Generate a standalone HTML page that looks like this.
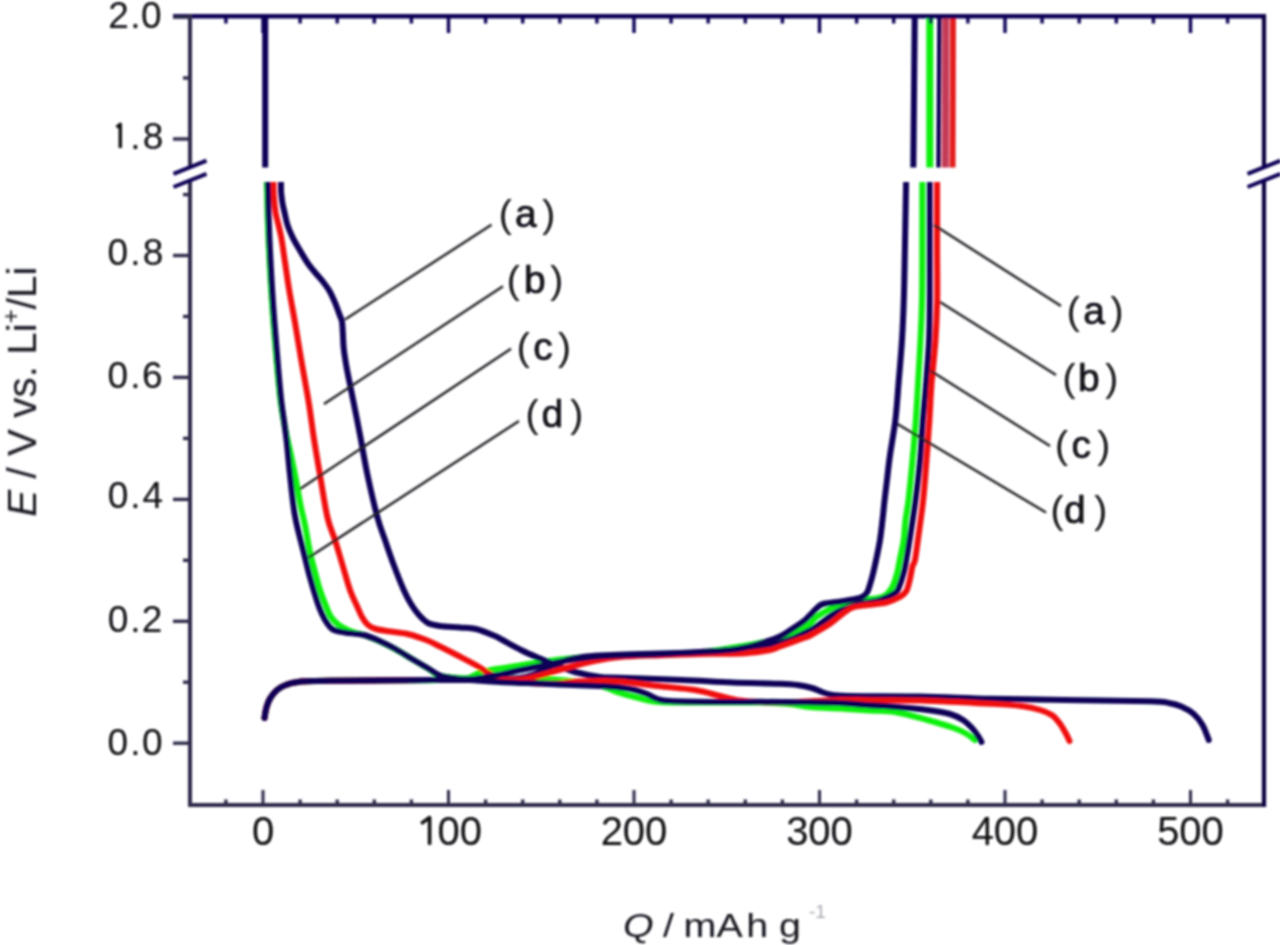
<!DOCTYPE html><html><head><meta charset="utf-8"><style>html,body{margin:0;padding:0;background:#fff;overflow:hidden}svg{display:block}</style></head><body><svg width="1280" height="945" viewBox="0 0 1280 945"><rect x="0" y="0" width="1280" height="945" fill="#ffffff"/><defs><filter id="bl" x="-2%" y="-2%" width="104%" height="104%"><feGaussianBlur stdDeviation="0.8"/></filter></defs><g filter="url(#bl)"><defs><clipPath id="lo"><rect x="191" y="182" width="1072" height="621"/></clipPath><clipPath id="up"><rect x="191" y="16" width="1072" height="151.5"/></clipPath></defs><g clip-path="url(#lo)"><path d="M264.50,718.00 C264.80,716.33 265.47,711.08 266.30,708.00 C267.13,704.92 268.13,702.08 269.50,699.50 C270.87,696.92 272.67,694.50 274.50,692.50 C276.33,690.50 278.33,688.87 280.50,687.50 C282.67,686.13 284.92,685.17 287.50,684.30 C290.08,683.43 292.92,682.80 296.00,682.30 C299.08,681.80 300.33,681.55 306.00,681.30 C311.67,681.05 314.33,680.97 330.00,680.80 C345.67,680.63 381.67,680.43 400.00,680.30 C418.33,680.17 429.17,680.22 440.00,680.00 C450.83,679.78 457.83,680.42 465.00,679.00 C472.17,677.58 475.50,673.50 483.00,671.50 C490.50,669.50 499.67,668.67 510.00,667.00 C520.33,665.33 535.00,662.92 545.00,661.50 C555.00,660.08 560.83,659.38 570.00,658.50 C579.17,657.62 585.00,656.87 600.00,656.20 C615.00,655.53 643.33,655.12 660.00,654.50 C676.67,653.88 686.67,653.83 700.00,652.50 C713.33,651.17 729.17,648.25 740.00,646.50 C750.83,644.75 758.33,643.17 765.00,642.00 C771.67,640.83 774.38,641.29 780.00,639.50 C785.62,637.71 793.75,633.92 798.75,631.25 C803.75,628.58 806.88,626.00 810.00,623.50 C813.12,621.00 813.12,619.12 817.50,616.25 C821.88,613.38 828.96,608.88 836.25,606.25 C843.54,603.62 853.46,602.09 861.25,600.50 C869.04,598.91 877.92,598.77 883.00,596.70 C888.08,594.63 889.40,591.82 891.70,588.10 C894.00,584.38 895.37,579.55 896.80,574.40 C898.23,569.25 899.15,562.93 900.30,557.20 C901.45,551.47 902.83,546.20 903.70,540.00 C904.57,533.80 904.70,526.67 905.50,520.00 C906.30,513.33 907.33,510.00 908.50,500.00 C909.67,490.00 911.28,473.33 912.50,460.00 C913.72,446.67 914.88,432.67 915.80,420.00 C916.72,407.33 917.22,397.33 918.00,384.00 C918.78,370.67 919.83,354.00 920.50,340.00 C921.17,326.00 921.70,315.00 922.00,300.00 C922.30,285.00 922.25,270.67 922.30,250.00 C922.35,229.33 922.30,188.33 922.30,176.00" fill="none" stroke="#10f010" stroke-width="6.0" stroke-linejoin="round" stroke-linecap="round"/><path d="M266.60,176.00 C266.77,182.50 267.23,203.17 267.60,215.00 C267.97,226.83 268.23,234.83 268.80,247.00 C269.37,259.17 270.23,275.42 271.00,288.00 C271.77,300.58 272.48,310.50 273.40,322.50 C274.32,334.50 275.32,346.92 276.50,360.00 C277.68,373.08 279.00,389.33 280.50,401.00 C282.00,412.67 283.75,421.00 285.50,430.00 C287.25,439.00 289.25,446.67 291.00,455.00 C292.75,463.33 294.42,471.67 296.00,480.00 C297.58,488.33 299.00,497.50 300.50,505.00 C302.00,512.50 303.42,517.17 305.00,525.00 C306.58,532.83 308.33,544.17 310.00,552.00 C311.67,559.83 313.33,565.67 315.00,572.00 C316.67,578.33 318.17,584.33 320.00,590.00 C321.83,595.67 324.17,601.50 326.00,606.00 C327.83,610.50 328.88,613.83 331.00,617.00 C333.12,620.17 335.58,622.67 338.75,625.00 C341.92,627.33 345.83,629.33 350.00,631.00 C354.17,632.67 358.75,633.25 363.75,635.00 C368.75,636.75 374.79,639.17 380.00,641.50 C385.21,643.83 389.38,645.92 395.00,649.00 C400.62,652.08 408.12,656.67 413.75,660.00 C419.38,663.33 424.38,666.33 428.75,669.00 C433.12,671.67 434.79,674.50 440.00,676.00 C445.21,677.50 450.00,677.58 460.00,678.00 C470.00,678.42 486.67,678.33 500.00,678.50 C513.33,678.67 530.00,678.75 540.00,679.00 C550.00,679.25 550.83,679.08 560.00,680.00 C569.17,680.92 587.17,683.17 595.00,684.50 C602.83,685.83 602.83,686.58 607.00,688.00 C611.17,689.42 615.00,691.42 620.00,693.00 C625.00,694.58 631.33,696.08 637.00,697.50 C642.67,698.92 646.83,700.67 654.00,701.50 C661.17,702.33 662.33,702.33 680.00,702.50 C697.67,702.67 741.67,702.25 760.00,702.50 C778.33,702.75 781.67,703.25 790.00,704.00 C798.33,704.75 801.67,706.25 810.00,707.00 C818.33,707.75 830.00,707.92 840.00,708.50 C850.00,709.08 860.83,709.92 870.00,710.50 C879.17,711.08 885.42,710.42 895.00,712.00 C904.58,713.58 917.92,717.42 927.50,720.00 C937.08,722.58 946.25,725.33 952.50,727.50 C958.75,729.67 961.25,730.92 965.00,733.00 C968.75,735.08 973.33,738.83 975.00,740.00" fill="none" stroke="#10f010" stroke-width="6.0" stroke-linejoin="round" stroke-linecap="round"/><path d="M281.00,176.00 C281.00,178.33 280.90,186.50 281.00,190.00 C281.10,193.50 281.30,194.50 281.60,197.00 C281.90,199.50 282.30,202.38 282.80,205.00 C283.30,207.62 283.80,209.30 284.60,212.70 C285.40,216.10 286.20,221.17 287.60,225.40 C289.00,229.63 290.88,233.83 293.00,238.10 C295.12,242.37 297.75,246.68 300.30,251.00 C302.85,255.32 305.77,260.33 308.30,264.00 C310.83,267.67 313.02,270.00 315.50,273.00 C317.98,276.00 320.87,279.00 323.20,282.00 C325.53,285.00 327.53,287.55 329.50,291.00 C331.47,294.45 333.28,298.63 335.00,302.70 C336.72,306.77 338.63,312.23 339.80,315.40 C340.97,318.57 341.50,318.93 342.00,321.70 C342.50,324.47 342.50,327.45 342.80,332.00 C343.10,336.55 343.15,343.00 343.80,349.00 C344.45,355.00 345.58,361.67 346.70,368.00 C347.82,374.33 349.23,380.67 350.50,387.00 C351.77,393.33 353.22,400.58 354.30,406.00 C355.38,411.42 355.97,414.25 357.00,419.50 C358.03,424.75 358.75,428.25 360.50,437.50 C362.25,446.75 364.67,461.67 367.50,475.00 C370.33,488.33 374.58,506.67 377.50,517.50 C380.42,528.33 382.29,532.08 385.00,540.00 C387.71,547.92 390.62,556.67 393.75,565.00 C396.88,573.33 400.88,583.50 403.75,590.00 C406.62,596.50 408.46,599.83 411.00,604.00 C413.54,608.17 416.17,611.83 419.00,615.00 C421.83,618.17 424.50,621.17 428.00,623.00 C431.50,624.83 434.67,625.25 440.00,626.00 C445.33,626.75 454.00,627.00 460.00,627.50 C466.00,628.00 470.17,627.58 476.00,629.00 C481.83,630.42 490.58,634.17 495.00,636.00 C499.42,637.83 498.17,637.67 502.50,640.00 C506.83,642.33 515.17,647.08 521.00,650.00 C526.83,652.92 531.83,655.08 537.50,657.50 C543.17,659.92 548.75,662.08 555.00,664.50 C561.25,666.92 567.50,669.92 575.00,672.00 C582.50,674.08 592.50,676.03 600.00,677.00 C607.50,677.97 606.25,677.30 620.00,677.80 C633.75,678.30 663.75,679.22 682.50,680.00 C701.25,680.78 716.25,681.88 732.50,682.50 C748.75,683.12 769.17,683.33 780.00,683.75 C790.83,684.17 792.17,684.29 797.50,685.00 C802.83,685.71 807.92,686.83 812.00,688.00 C816.08,689.17 819.00,690.92 822.00,692.00 C825.00,693.08 825.75,693.83 830.00,694.50 C834.25,695.17 832.50,695.67 847.50,696.00 C862.50,696.33 896.25,696.04 920.00,696.50 C943.75,696.96 965.83,698.17 990.00,698.75 C1014.17,699.33 1038.33,699.58 1065.00,700.00 C1091.67,700.42 1132.71,700.75 1150.00,701.25 C1167.29,701.75 1163.54,702.12 1168.75,703.00 C1173.96,703.88 1177.08,704.67 1181.25,706.50 C1185.42,708.33 1190.21,710.92 1193.75,714.00 C1197.29,717.08 1200.00,720.67 1202.50,725.00 C1205.00,729.33 1207.71,737.50 1208.75,740.00" fill="none" stroke="#0a0656" stroke-width="6.0" stroke-linejoin="round" stroke-linecap="round"/><path d="M273.50,176.00 C273.53,179.17 273.37,189.00 273.70,195.00 C274.03,201.00 274.70,207.00 275.50,212.00 C276.30,217.00 277.52,220.65 278.50,225.00 C279.48,229.35 280.28,231.68 281.40,238.10 C282.52,244.52 283.93,255.03 285.20,263.50 C286.47,271.97 287.37,279.07 289.00,288.90 C290.63,298.73 292.96,310.65 295.00,322.50 C297.04,334.35 298.96,346.67 301.25,360.00 C303.54,373.33 306.67,389.58 308.75,402.50 C310.83,415.42 311.88,425.42 313.75,437.50 C315.62,449.58 317.71,461.67 320.00,475.00 C322.29,488.33 325.00,506.67 327.50,517.50 C330.00,528.33 332.50,532.08 335.00,540.00 C337.50,547.92 340.00,556.67 342.50,565.00 C345.00,573.33 347.58,583.17 350.00,590.00 C352.42,596.83 355.00,601.50 357.00,606.00 C359.00,610.50 360.17,613.83 362.00,617.00 C363.83,620.17 365.67,623.00 368.00,625.00 C370.33,627.00 372.33,627.92 376.00,629.00 C379.67,630.08 384.75,630.67 390.00,631.50 C395.25,632.33 401.46,632.58 407.50,634.00 C413.54,635.42 420.83,637.92 426.25,640.00 C431.67,642.08 434.58,643.83 440.00,646.50 C445.42,649.17 452.50,652.75 458.75,656.00 C465.00,659.25 472.29,663.00 477.50,666.00 C482.71,669.00 485.42,671.67 490.00,674.00 C494.58,676.33 498.33,678.50 505.00,680.00 C511.67,681.50 521.67,682.42 530.00,683.00 C538.33,683.58 547.08,683.75 555.00,683.50 C562.92,683.25 570.00,681.92 577.50,681.50 C585.00,681.08 592.92,681.00 600.00,681.00 C607.08,681.00 610.42,680.67 620.00,681.50 C629.58,682.33 645.00,684.58 657.50,686.00 C670.00,687.42 684.58,688.33 695.00,690.00 C705.42,691.67 712.50,694.25 720.00,696.00 C727.50,697.75 733.33,699.50 740.00,700.50 C746.67,701.50 751.67,701.72 760.00,702.00 C768.33,702.28 780.83,702.37 790.00,702.20 C799.17,702.03 806.67,701.37 815.00,701.00 C823.33,700.63 830.83,700.13 840.00,700.00 C849.17,699.87 856.67,700.12 870.00,700.20 C883.33,700.28 900.00,699.91 920.00,700.50 C940.00,701.09 973.17,702.83 990.00,703.75 C1006.83,704.67 1012.67,704.96 1021.00,706.00 C1029.33,707.04 1034.75,708.42 1040.00,710.00 C1045.25,711.58 1049.17,713.21 1052.50,715.50 C1055.83,717.79 1057.75,720.71 1060.00,723.75 C1062.25,726.79 1064.42,730.88 1066.00,733.75 C1067.58,736.62 1068.92,739.79 1069.50,741.00" fill="none" stroke="#f01010" stroke-width="6.0" stroke-linejoin="round" stroke-linecap="round"/><path d="M264.50,718.00 C264.80,716.33 265.47,711.08 266.30,708.00 C267.13,704.92 268.13,702.08 269.50,699.50 C270.87,696.92 272.67,694.50 274.50,692.50 C276.33,690.50 278.33,688.87 280.50,687.50 C282.67,686.13 284.92,685.17 287.50,684.30 C290.08,683.43 292.92,682.80 296.00,682.30 C299.08,681.80 300.33,681.55 306.00,681.30 C311.67,681.05 314.33,680.97 330.00,680.80 C345.67,680.63 381.67,680.43 400.00,680.30 C418.33,680.17 428.33,680.13 440.00,680.00 C451.67,679.87 460.00,679.67 470.00,679.50 C480.00,679.33 491.67,679.25 500.00,679.00 C508.33,678.75 514.17,678.83 520.00,678.00 C525.83,677.17 530.00,675.83 535.00,674.00 C540.00,672.17 545.00,669.25 550.00,667.00 C555.00,664.75 560.00,662.08 565.00,660.50 C570.00,658.92 574.17,658.33 580.00,657.50 C585.83,656.67 586.67,656.17 600.00,655.50 C613.33,654.83 643.33,654.00 660.00,653.50 C676.67,653.00 685.00,653.33 700.00,652.50 C715.00,651.67 736.67,650.08 750.00,648.50 C763.33,646.92 770.00,646.00 780.00,643.00 C790.00,640.00 800.62,635.58 810.00,630.50 C819.38,625.42 827.92,616.92 836.25,612.50 C844.58,608.08 852.71,606.08 860.00,604.00 C867.29,601.92 874.17,601.83 880.00,600.00 C885.83,598.17 891.88,595.08 895.00,593.00 C898.12,590.92 897.29,590.92 898.75,587.50 C900.21,584.08 902.50,577.08 903.75,572.50 C905.00,567.92 905.21,565.92 906.25,560.00 C907.29,554.08 908.46,547.00 910.00,537.00 C911.54,527.00 913.83,512.83 915.50,500.00 C917.17,487.17 918.78,473.33 920.00,460.00 C921.22,446.67 921.80,432.67 922.80,420.00 C923.80,407.33 924.97,397.33 926.00,384.00 C927.03,370.67 928.38,354.00 929.00,340.00 C929.62,326.00 929.58,315.00 929.70,300.00 C929.82,285.00 929.70,270.67 929.70,250.00 C929.70,229.33 929.70,188.33 929.70,176.00" fill="none" stroke="#0a0656" stroke-width="6.0" stroke-linejoin="round" stroke-linecap="round"/><path d="M264.50,718.00 C264.80,716.33 265.47,711.08 266.30,708.00 C267.13,704.92 268.13,702.08 269.50,699.50 C270.87,696.92 272.67,694.50 274.50,692.50 C276.33,690.50 278.33,688.87 280.50,687.50 C282.67,686.13 284.92,685.17 287.50,684.30 C290.08,683.43 292.92,682.80 296.00,682.30 C299.08,681.80 300.33,681.55 306.00,681.30 C311.67,681.05 314.33,680.97 330.00,680.80 C345.67,680.63 381.67,680.43 400.00,680.30 C418.33,680.17 423.33,680.05 440.00,680.00 C456.67,679.95 486.33,680.08 500.00,680.00 C513.67,679.92 515.33,680.25 522.00,679.50 C528.67,678.75 533.88,677.08 540.00,675.50 C546.12,673.92 552.50,671.75 558.75,670.00 C565.00,668.25 571.62,666.50 577.50,665.00 C583.38,663.50 586.92,662.33 594.00,661.00 C601.08,659.67 609.00,657.97 620.00,657.00 C631.00,656.03 646.67,655.70 660.00,655.20 C673.33,654.70 690.00,654.23 700.00,654.00 C710.00,653.77 712.50,653.93 720.00,653.80 C727.50,653.67 736.67,653.83 745.00,653.20 C753.33,652.57 764.17,651.12 770.00,650.00 C775.83,648.88 774.17,648.58 780.00,646.50 C785.83,644.42 800.00,639.33 805.00,637.50 C810.00,635.67 805.83,637.79 810.00,635.50 C814.17,633.21 824.58,627.38 830.00,623.75 C835.42,620.12 838.75,616.46 842.50,613.75 C846.25,611.04 848.33,608.96 852.50,607.50 C856.67,606.04 861.88,605.83 867.50,605.00 C873.12,604.17 881.04,603.75 886.25,602.50 C891.46,601.25 895.42,599.38 898.75,597.50 C902.08,595.62 904.38,594.38 906.25,591.25 C908.12,588.12 908.96,582.92 910.00,578.75 C911.04,574.58 911.67,569.38 912.50,566.25 C913.33,563.12 914.03,564.88 915.00,560.00 C915.97,555.12 916.93,547.00 918.30,537.00 C919.67,527.00 921.83,512.83 923.20,500.00 C924.57,487.17 925.47,473.33 926.50,460.00 C927.53,446.67 928.57,432.67 929.40,420.00 C930.23,407.33 930.48,397.33 931.50,384.00 C932.52,370.67 934.55,354.00 935.50,340.00 C936.45,326.00 936.93,315.00 937.20,300.00 C937.47,285.00 937.12,270.67 937.10,250.00 C937.08,229.33 937.10,188.33 937.10,176.00" fill="none" stroke="#f01010" stroke-width="6.0" stroke-linejoin="round" stroke-linecap="round"/><path d="M264.50,718.00 C264.80,716.33 265.47,711.08 266.30,708.00 C267.13,704.92 268.13,702.08 269.50,699.50 C270.87,696.92 272.67,694.50 274.50,692.50 C276.33,690.50 278.33,688.87 280.50,687.50 C282.67,686.13 284.92,685.17 287.50,684.30 C290.08,683.43 292.92,682.80 296.00,682.30 C299.08,681.80 300.33,681.55 306.00,681.30 C311.67,681.05 314.33,680.97 330.00,680.80 C345.67,680.63 381.67,680.43 400.00,680.30 C418.33,680.17 428.33,680.13 440.00,680.00 C451.67,679.87 460.83,680.25 470.00,679.50 C479.17,678.75 486.67,677.08 495.00,675.50 C503.33,673.92 511.67,671.75 520.00,670.00 C528.33,668.25 536.67,666.67 545.00,665.00 C553.33,663.33 560.83,661.47 570.00,660.00 C579.17,658.53 585.00,657.20 600.00,656.20 C615.00,655.20 643.33,654.70 660.00,654.00 C676.67,653.30 688.33,652.67 700.00,652.00 C711.67,651.33 721.67,650.92 730.00,650.00 C738.33,649.08 744.17,647.83 750.00,646.50 C755.83,645.17 760.00,643.67 765.00,642.00 C770.00,640.33 775.42,638.71 780.00,636.50 C784.58,634.29 788.33,631.50 792.50,628.75 C796.67,626.00 800.83,623.54 805.00,620.00 C809.17,616.46 814.38,610.21 817.50,607.50 C820.62,604.79 819.58,604.79 823.75,603.75 C827.92,602.71 836.88,602.12 842.50,601.25 C848.12,600.38 854.08,599.29 857.50,598.50 C860.92,597.71 861.32,597.67 863.00,596.50 C864.68,595.33 865.97,595.18 867.60,591.50 C869.23,587.82 871.32,579.98 872.80,574.40 C874.28,568.82 875.30,563.73 876.50,558.00 C877.70,552.27 879.00,546.33 880.00,540.00 C881.00,533.67 881.73,526.67 882.50,520.00 C883.27,513.33 883.85,506.67 884.60,500.00 C885.35,493.33 886.10,487.50 887.00,480.00 C887.90,472.50 888.60,465.00 890.00,455.00 C891.40,445.00 893.98,431.83 895.40,420.00 C896.82,408.17 897.40,397.33 898.50,384.00 C899.60,370.67 901.12,354.00 902.00,340.00 C902.88,326.00 903.33,314.33 903.80,300.00 C904.27,285.67 904.40,274.67 904.80,254.00 C905.20,233.33 905.97,189.00 906.20,176.00" fill="none" stroke="#0a0656" stroke-width="6.0" stroke-linejoin="round" stroke-linecap="round"/><path d="M267.60,176.00 C267.77,182.50 268.23,203.17 268.60,215.00 C268.97,226.83 269.23,234.83 269.80,247.00 C270.37,259.17 271.23,275.42 272.00,288.00 C272.77,300.58 273.48,310.50 274.40,322.50 C275.32,334.50 276.36,346.92 277.50,360.00 C278.64,373.08 279.79,388.08 281.25,401.00 C282.71,413.92 284.79,425.17 286.25,437.50 C287.71,449.83 288.54,461.92 290.00,475.00 C291.46,488.08 292.71,503.08 295.00,516.00 C297.29,528.92 301.25,542.25 303.75,552.50 C306.25,562.75 307.71,569.17 310.00,577.50 C312.29,585.83 315.50,596.42 317.50,602.50 C319.50,608.58 320.42,610.58 322.00,614.00 C323.58,617.42 325.17,620.42 327.00,623.00 C328.83,625.58 330.00,627.92 333.00,629.50 C336.00,631.08 339.88,631.58 345.00,632.50 C350.12,633.42 357.92,633.54 363.75,635.00 C369.58,636.46 374.79,638.96 380.00,641.25 C385.21,643.54 389.38,645.62 395.00,648.75 C400.62,651.88 408.12,656.67 413.75,660.00 C419.38,663.33 424.38,666.17 428.75,668.75 C433.12,671.33 434.79,673.79 440.00,675.50 C445.21,677.21 450.00,677.92 460.00,679.00 C470.00,680.08 486.67,681.25 500.00,682.00 C513.33,682.75 530.00,683.08 540.00,683.50 C550.00,683.92 550.00,684.08 560.00,684.50 C570.00,684.92 590.00,685.50 600.00,686.00 C610.00,686.50 614.17,686.83 620.00,687.50 C625.83,688.17 630.50,688.92 635.00,690.00 C639.50,691.08 643.25,692.50 647.00,694.00 C650.75,695.50 653.67,697.83 657.50,699.00 C661.33,700.17 659.58,700.50 670.00,701.00 C680.42,701.50 705.00,701.87 720.00,702.00 C735.00,702.13 746.67,701.77 760.00,701.80 C773.33,701.83 786.67,702.00 800.00,702.20 C813.33,702.40 828.33,702.50 840.00,703.00 C851.67,703.50 860.83,704.57 870.00,705.20 C879.17,705.83 885.42,706.00 895.00,706.80 C904.58,707.60 918.33,708.80 927.50,710.00 C936.67,711.20 944.08,712.33 950.00,714.00 C955.92,715.67 959.33,717.67 963.00,720.00 C966.67,722.33 969.50,725.33 972.00,728.00 C974.50,730.67 976.42,733.67 978.00,736.00 C979.58,738.33 980.92,741.00 981.50,742.00" fill="none" stroke="#0a0656" stroke-width="6.0" stroke-linejoin="round" stroke-linecap="round"/></g><g clip-path="url(#up)"><line x1="265.2" y1="10" x2="265.2" y2="170" stroke="#0a0656" stroke-width="6"/><line x1="914.8" y1="10" x2="913.3" y2="170" stroke="#0a0656" stroke-width="6"/><line x1="929.8" y1="10" x2="929.8" y2="170" stroke="#10f010" stroke-width="7"/><line x1="945.8" y1="10" x2="945.3" y2="170" stroke="#c43a58" stroke-width="7"/><line x1="953" y1="10" x2="952.5" y2="170" stroke="#e41c1c" stroke-width="6"/><line x1="939.5" y1="10" x2="938.5" y2="170" stroke="#0a0656" stroke-width="4.5"/></g><line x1="173" y1="16.2" x2="1266" y2="16.2" stroke="#0a0656" stroke-width="4.5"/><line x1="188" y1="805" x2="1266" y2="805" stroke="#2e2c4a" stroke-width="3.8"/><line x1="190" y1="14.5" x2="190" y2="166" stroke="#2e2c4a" stroke-width="4"/><line x1="190" y1="181" x2="190" y2="806.5" stroke="#2e2c4a" stroke-width="4"/><line x1="1264" y1="14.5" x2="1264" y2="166" stroke="#0a0640" stroke-width="4.2"/><line x1="1264" y1="181" x2="1264" y2="806.5" stroke="#0a0640" stroke-width="4.2"/><line x1="173.5" y1="173.8" x2="206.5" y2="160.6" stroke="#0a0656" stroke-width="4"/><line x1="173.5" y1="187.0" x2="206.5" y2="173.8" stroke="#0a0656" stroke-width="4"/><line x1="1247.5" y1="173.8" x2="1280.5" y2="160.6" stroke="#0a0656" stroke-width="4"/><line x1="1247.5" y1="187.0" x2="1280.5" y2="173.8" stroke="#0a0656" stroke-width="4"/><line x1="173" y1="17.0" x2="190" y2="17.0" stroke="#2e2c4a" stroke-width="3.4"/><line x1="173" y1="139.0" x2="190" y2="139.0" stroke="#2e2c4a" stroke-width="3.4"/><line x1="183" y1="78.0" x2="190" y2="78.0" stroke="#2e2c4a" stroke-width="3.4"/><line x1="173" y1="255.5" x2="190" y2="255.5" stroke="#2e2c4a" stroke-width="3.4"/><line x1="173" y1="377.4" x2="190" y2="377.4" stroke="#2e2c4a" stroke-width="3.4"/><line x1="173" y1="499.4" x2="190" y2="499.4" stroke="#2e2c4a" stroke-width="3.4"/><line x1="173" y1="621.3" x2="190" y2="621.3" stroke="#2e2c4a" stroke-width="3.4"/><line x1="173" y1="743.2" x2="190" y2="743.2" stroke="#2e2c4a" stroke-width="3.4"/><line x1="183" y1="194.6" x2="190" y2="194.6" stroke="#2e2c4a" stroke-width="3.4"/><line x1="183" y1="316.5" x2="190" y2="316.5" stroke="#2e2c4a" stroke-width="3.4"/><line x1="183" y1="438.4" x2="190" y2="438.4" stroke="#2e2c4a" stroke-width="3.4"/><line x1="183" y1="560.3" x2="190" y2="560.3" stroke="#2e2c4a" stroke-width="3.4"/><line x1="183" y1="682.2" x2="190" y2="682.2" stroke="#2e2c4a" stroke-width="3.4"/><line x1="225.9" y1="805" x2="225.9" y2="799.5" stroke="#2e2c4a" stroke-width="3.4"/><line x1="225.9" y1="16" x2="225.9" y2="23.5" stroke="#0a0656" stroke-width="3.4"/><line x1="263.0" y1="805" x2="263.0" y2="790" stroke="#2e2c4a" stroke-width="3.0"/><line x1="263.0" y1="16" x2="263.0" y2="33" stroke="#0a0656" stroke-width="3.4"/><line x1="300.1" y1="805" x2="300.1" y2="799.5" stroke="#2e2c4a" stroke-width="3.4"/><line x1="300.1" y1="16" x2="300.1" y2="23.5" stroke="#0a0656" stroke-width="3.4"/><line x1="337.2" y1="805" x2="337.2" y2="799.5" stroke="#2e2c4a" stroke-width="3.4"/><line x1="337.2" y1="16" x2="337.2" y2="23.5" stroke="#0a0656" stroke-width="3.4"/><line x1="374.3" y1="805" x2="374.3" y2="799.5" stroke="#2e2c4a" stroke-width="3.4"/><line x1="374.3" y1="16" x2="374.3" y2="23.5" stroke="#0a0656" stroke-width="3.4"/><line x1="411.4" y1="805" x2="411.4" y2="799.5" stroke="#2e2c4a" stroke-width="3.4"/><line x1="411.4" y1="16" x2="411.4" y2="23.5" stroke="#0a0656" stroke-width="3.4"/><line x1="448.5" y1="805" x2="448.5" y2="790" stroke="#2e2c4a" stroke-width="3.0"/><line x1="448.5" y1="16" x2="448.5" y2="33" stroke="#0a0656" stroke-width="3.4"/><line x1="485.6" y1="805" x2="485.6" y2="799.5" stroke="#2e2c4a" stroke-width="3.4"/><line x1="485.6" y1="16" x2="485.6" y2="23.5" stroke="#0a0656" stroke-width="3.4"/><line x1="522.7" y1="805" x2="522.7" y2="799.5" stroke="#2e2c4a" stroke-width="3.4"/><line x1="522.7" y1="16" x2="522.7" y2="23.5" stroke="#0a0656" stroke-width="3.4"/><line x1="559.8" y1="805" x2="559.8" y2="799.5" stroke="#2e2c4a" stroke-width="3.4"/><line x1="559.8" y1="16" x2="559.8" y2="23.5" stroke="#0a0656" stroke-width="3.4"/><line x1="596.9" y1="805" x2="596.9" y2="799.5" stroke="#2e2c4a" stroke-width="3.4"/><line x1="596.9" y1="16" x2="596.9" y2="23.5" stroke="#0a0656" stroke-width="3.4"/><line x1="634.0" y1="805" x2="634.0" y2="790" stroke="#2e2c4a" stroke-width="3.0"/><line x1="634.0" y1="16" x2="634.0" y2="33" stroke="#0a0656" stroke-width="3.4"/><line x1="671.1" y1="805" x2="671.1" y2="799.5" stroke="#2e2c4a" stroke-width="3.4"/><line x1="671.1" y1="16" x2="671.1" y2="23.5" stroke="#0a0656" stroke-width="3.4"/><line x1="708.2" y1="805" x2="708.2" y2="799.5" stroke="#2e2c4a" stroke-width="3.4"/><line x1="708.2" y1="16" x2="708.2" y2="23.5" stroke="#0a0656" stroke-width="3.4"/><line x1="745.3" y1="805" x2="745.3" y2="799.5" stroke="#2e2c4a" stroke-width="3.4"/><line x1="745.3" y1="16" x2="745.3" y2="23.5" stroke="#0a0656" stroke-width="3.4"/><line x1="782.4" y1="805" x2="782.4" y2="799.5" stroke="#2e2c4a" stroke-width="3.4"/><line x1="782.4" y1="16" x2="782.4" y2="23.5" stroke="#0a0656" stroke-width="3.4"/><line x1="819.5" y1="805" x2="819.5" y2="790" stroke="#2e2c4a" stroke-width="3.0"/><line x1="819.5" y1="16" x2="819.5" y2="33" stroke="#0a0656" stroke-width="3.4"/><line x1="856.6" y1="805" x2="856.6" y2="799.5" stroke="#2e2c4a" stroke-width="3.4"/><line x1="856.6" y1="16" x2="856.6" y2="23.5" stroke="#0a0656" stroke-width="3.4"/><line x1="893.7" y1="805" x2="893.7" y2="799.5" stroke="#2e2c4a" stroke-width="3.4"/><line x1="893.7" y1="16" x2="893.7" y2="23.5" stroke="#0a0656" stroke-width="3.4"/><line x1="930.8" y1="805" x2="930.8" y2="799.5" stroke="#2e2c4a" stroke-width="3.4"/><line x1="930.8" y1="16" x2="930.8" y2="23.5" stroke="#0a0656" stroke-width="3.4"/><line x1="967.9" y1="805" x2="967.9" y2="799.5" stroke="#2e2c4a" stroke-width="3.4"/><line x1="967.9" y1="16" x2="967.9" y2="23.5" stroke="#0a0656" stroke-width="3.4"/><line x1="1005.0" y1="805" x2="1005.0" y2="790" stroke="#2e2c4a" stroke-width="3.0"/><line x1="1005.0" y1="16" x2="1005.0" y2="33" stroke="#0a0656" stroke-width="3.4"/><line x1="1042.1" y1="805" x2="1042.1" y2="799.5" stroke="#2e2c4a" stroke-width="3.4"/><line x1="1042.1" y1="16" x2="1042.1" y2="23.5" stroke="#0a0656" stroke-width="3.4"/><line x1="1079.2" y1="805" x2="1079.2" y2="799.5" stroke="#2e2c4a" stroke-width="3.4"/><line x1="1079.2" y1="16" x2="1079.2" y2="23.5" stroke="#0a0656" stroke-width="3.4"/><line x1="1116.3" y1="805" x2="1116.3" y2="799.5" stroke="#2e2c4a" stroke-width="3.4"/><line x1="1116.3" y1="16" x2="1116.3" y2="23.5" stroke="#0a0656" stroke-width="3.4"/><line x1="1153.4" y1="805" x2="1153.4" y2="799.5" stroke="#2e2c4a" stroke-width="3.4"/><line x1="1153.4" y1="16" x2="1153.4" y2="23.5" stroke="#0a0656" stroke-width="3.4"/><line x1="1190.5" y1="805" x2="1190.5" y2="790" stroke="#2e2c4a" stroke-width="3.0"/><line x1="1190.5" y1="16" x2="1190.5" y2="33" stroke="#0a0656" stroke-width="3.4"/><line x1="1227.6" y1="805" x2="1227.6" y2="799.5" stroke="#2e2c4a" stroke-width="3.4"/><line x1="1227.6" y1="16" x2="1227.6" y2="23.5" stroke="#0a0656" stroke-width="3.4"/><line x1="345" y1="319.5" x2="491.5" y2="224.8" stroke="#202024" stroke-width="2.4"/><line x1="324" y1="404" x2="503" y2="286.2" stroke="#202024" stroke-width="2.4"/><line x1="300" y1="489" x2="511" y2="348.75" stroke="#202024" stroke-width="2.4"/><line x1="308.75" y1="557.5" x2="519" y2="421" stroke="#202024" stroke-width="2.4"/><line x1="934" y1="225" x2="1061" y2="306" stroke="#202024" stroke-width="2.4"/><line x1="940" y1="302" x2="1056" y2="375" stroke="#202024" stroke-width="2.4"/><line x1="931" y1="371" x2="1050" y2="446" stroke="#202024" stroke-width="2.4"/><line x1="897.5" y1="424" x2="1046" y2="512.5" stroke="#202024" stroke-width="2.4"/><text x="108.2 130.3 141.1" y="27.7" font-family="Liberation Sans, sans-serif" font-size="37" fill="#08080f">2.0</text><path d="M120.3,148 L120.3,124.2 L116.6,127.2" fill="none" stroke="#08080f" stroke-width="3.3" stroke-linejoin="round"/><text x="130.3 142.7" y="148.5" font-family="Liberation Sans, sans-serif" font-size="37" fill="#08080f">.8</text><text x="107.4 130.3 142.7" y="264.5" font-family="Liberation Sans, sans-serif" font-size="37" fill="#08080f">0.8</text><text x="107.4 130.3 142.1" y="387.5" font-family="Liberation Sans, sans-serif" font-size="37" fill="#08080f">0.6</text><text x="107.8 130.3 142.6" y="508.2" font-family="Liberation Sans, sans-serif" font-size="37" fill="#08080f">0.4</text><text x="107.8 130.3 141.7" y="631.5" font-family="Liberation Sans, sans-serif" font-size="37" fill="#08080f">0.2</text><text x="107.4 130.3 142.1" y="754.5" font-family="Liberation Sans, sans-serif" font-size="37" fill="#08080f">0.0</text><text x="263.0" y="844.5" font-family="Liberation Sans, sans-serif" font-size="40" fill="#08080f" text-anchor="middle">0</text><path d="M429.6,844.8 L429.6,817.4 L421.2,823.6" fill="none" stroke="#08080f" stroke-width="3.5" stroke-linejoin="round"/><text x="437.4" y="844.5" font-family="Liberation Sans, sans-serif" font-size="40" fill="#08080f">00</text><text x="634.0" y="844.5" font-family="Liberation Sans, sans-serif" font-size="40" fill="#08080f" text-anchor="middle">200</text><text x="819.5" y="844.5" font-family="Liberation Sans, sans-serif" font-size="40" fill="#08080f" text-anchor="middle">300</text><text x="1005.0" y="844.5" font-family="Liberation Sans, sans-serif" font-size="40" fill="#08080f" text-anchor="middle">400</text><text x="1190.5" y="844.5" font-family="Liberation Sans, sans-serif" font-size="40" fill="#08080f" text-anchor="middle">500</text><text x="498.7" y="226.5" font-family="Liberation Sans, sans-serif" font-size="39" fill="#08080f">(</text><text x="514.9" y="226.5" font-family="Liberation Sans, sans-serif" font-size="39" fill="#08080f" stroke="#08080f" stroke-width="0.6">a</text><text x="542.3" y="226.5" font-family="Liberation Sans, sans-serif" font-size="39" fill="#08080f">)</text><text x="506.8" y="292.5" font-family="Liberation Sans, sans-serif" font-size="39" fill="#08080f">(</text><text x="524.0" y="292.5" font-family="Liberation Sans, sans-serif" font-size="39" fill="#08080f" stroke="#08080f" stroke-width="0.6">b</text><text x="550.3" y="292.5" font-family="Liberation Sans, sans-serif" font-size="39" fill="#08080f">)</text><text x="516.8" y="360" font-family="Liberation Sans, sans-serif" font-size="39" fill="#08080f">(</text><text x="533.3" y="360" font-family="Liberation Sans, sans-serif" font-size="39" fill="#08080f" stroke="#08080f" stroke-width="0.6">c</text><text x="558.0" y="360" font-family="Liberation Sans, sans-serif" font-size="39" fill="#08080f">)</text><text x="525.6" y="426.8" font-family="Liberation Sans, sans-serif" font-size="39" fill="#08080f">(</text><text x="541.4" y="426.8" font-family="Liberation Sans, sans-serif" font-size="39" fill="#08080f" stroke="#08080f" stroke-width="0.6">d</text><text x="570.3" y="426.8" font-family="Liberation Sans, sans-serif" font-size="39" fill="#08080f">)</text><text x="1066.8" y="323.5" font-family="Liberation Sans, sans-serif" font-size="39" fill="#08080f">(</text><text x="1083.3" y="323.5" font-family="Liberation Sans, sans-serif" font-size="39" fill="#08080f" stroke="#08080f" stroke-width="0.6">a</text><text x="1110.5" y="323.5" font-family="Liberation Sans, sans-serif" font-size="39" fill="#08080f">)</text><text x="1062.5" y="391" font-family="Liberation Sans, sans-serif" font-size="39" fill="#08080f">(</text><text x="1078.0" y="391" font-family="Liberation Sans, sans-serif" font-size="39" fill="#08080f" stroke="#08080f" stroke-width="0.6">b</text><text x="1105.3" y="391" font-family="Liberation Sans, sans-serif" font-size="39" fill="#08080f">)</text><text x="1055.0" y="457.5" font-family="Liberation Sans, sans-serif" font-size="39" fill="#08080f">(</text><text x="1071.4" y="457.5" font-family="Liberation Sans, sans-serif" font-size="39" fill="#08080f" stroke="#08080f" stroke-width="0.6">c</text><text x="1097.3" y="457.5" font-family="Liberation Sans, sans-serif" font-size="39" fill="#08080f">)</text><text x="1050.6" y="522.5" font-family="Liberation Sans, sans-serif" font-size="39" fill="#08080f">(</text><text x="1063.9" y="522.5" font-family="Liberation Sans, sans-serif" font-size="39" fill="#08080f" stroke="#08080f" stroke-width="0.6">d</text><text x="1094.3" y="522.5" font-family="Liberation Sans, sans-serif" font-size="39" fill="#08080f">)</text><text transform="translate(36,516.8) rotate(-90)" font-family="Liberation Sans, sans-serif" font-size="40.5" fill="#14141e"><tspan font-style="italic">E</tspan> / V vs. Li<tspan font-size="24" dy="-17">+</tspan><tspan dy="17">/Li</tspan></text><text transform="translate(623.0,936.5) scale(1.16,1)" font-family="Liberation Sans, sans-serif" font-size="34" fill="#14141e" font-style="italic">Q</text><text transform="translate(663.0,936.5) scale(1.16,1)" font-family="Liberation Sans, sans-serif" font-size="34" fill="#14141e">/</text><text transform="translate(683.4,936.5) scale(1.16,1)" font-family="Liberation Sans, sans-serif" font-size="34" fill="#14141e">m</text><text transform="translate(716.4,936.5) scale(1.16,1)" font-family="Liberation Sans, sans-serif" font-size="34" fill="#14141e">A</text><text transform="translate(746.3,936.5) scale(1.16,1)" font-family="Liberation Sans, sans-serif" font-size="34" fill="#14141e">h</text><text transform="translate(779.1,936.5) scale(1.16,1)" font-family="Liberation Sans, sans-serif" font-size="34" fill="#14141e">g</text><text x="809" y="918" font-family="Liberation Sans, sans-serif" font-size="19" fill="#a8a8b2">-1</text></g></svg></body></html>
